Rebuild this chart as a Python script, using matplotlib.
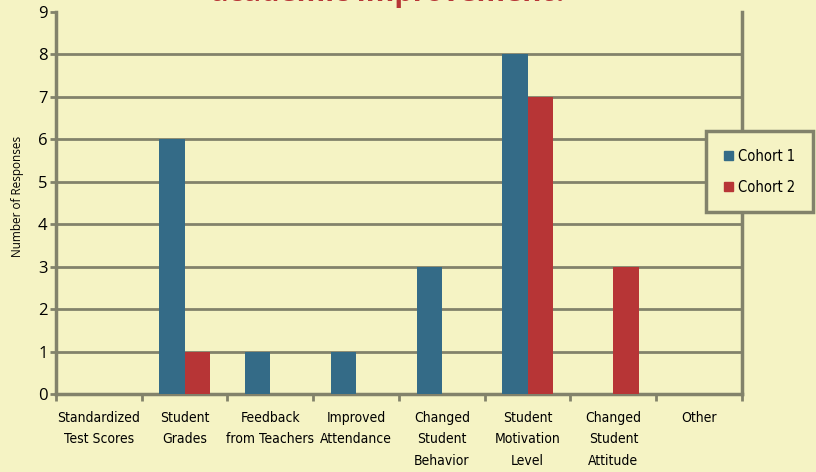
import numpy as np
import matplotlib.pyplot as plt
from matplotlib.patches import Patch
from matplotlib import font_manager

# ==============================================================================
# Data
#
categories = ['Standardized\nTest Scores', 'Student\nGrades',
              'Feedback\nfrom Teachers', 'Improved\nAttendance',
              'Changed\nStudent\nBehavior', 'Student\nMotivation\nLevel',
              'Changed\nStudent\nAttitude', 'Other']
cohort_1 = [0, 6, 1, 1, 3, 8, 0, 0]
cohort_2 = [0, 1, 0, 0, 0, 7, 3, 0]
series_names = ['Cohort 1', 'Cohort 2']

# ==============================================================================
# Style
#
BG = '#f5f3c4'
GRID = '#82826b'
BLUE = '#346b87'
RED = '#b73536'
REGULAR = ['Open Sans', 'DejaVu Sans']
BAR_W = 0.295

narrow = font_manager.FontProperties(family='DejaVu Sans', stretch='condensed', size=10)
leg_font = font_manager.FontProperties(family='DejaVu Sans', stretch='condensed', size=10.5)

# ==============================================================================
# Plot
#
fig = plt.figure(figsize=(8.16, 4.72), dpi=100, facecolor=BG)
ax = fig.add_axes([0.0686, 0.1653, 0.9093 - 0.0686, 0.9746 - 0.1653])
ax.set_facecolor(BG)

x = np.arange(len(categories)) + 0.5
ax.bar(x - BAR_W / 2, cohort_1, BAR_W, color=BLUE, zorder=3)
ax.bar(x + BAR_W / 2, cohort_2, BAR_W, color=RED, zorder=3)

ax.set_xlim(0, len(categories))
ax.set_ylim(0, 9)
ax.set_yticks(range(10))
ax.set_xticks(range(len(categories) + 1))
ax.set_xticklabels([])
ax.set_xticks(x, minor=True)
ax.set_xticklabels(categories, minor=True, fontproperties=narrow,
                   linespacing=1.7, va='top')
ax.tick_params(axis='x', which='minor', length=0, pad=12)
ax.tick_params(axis='x', which='major', length=5, width=2, color=GRID)
ax.tick_params(axis='y', length=4, width=2, color=GRID, pad=2, labelsize=12)
for lab in ax.get_yticklabels():
    lab.set_family(REGULAR)

ax.grid(axis='y', color=GRID, linewidth=2, zorder=0)
ax.yaxis.get_gridlines()[-1].set_visible(False)
for side in ['left', 'bottom', 'right']:
    ax.spines[side].set_color(GRID)
    ax.spines[side].set_linewidth(2.5)
ax.spines['top'].set_visible(False)

ax.set_ylabel('Number of Responses', family=REGULAR, fontsize=8.5)
ax.yaxis.set_label_coords(-0.047, 0.518)

# title, cut off by the top edge
fig.text(0.478, 0.998, 'academic improvement?', ha='center', va='baseline',
         color=RED, fontsize=21, fontweight='bold', family=REGULAR)

handles = [Patch(color=BLUE), Patch(color=RED)]
leg = fig.legend(handles, series_names, loc='center',
                 bbox_to_anchor=(0.931, 0.636), frameon=True, fancybox=False,
                 prop=leg_font, handlelength=0.6,
                 handleheight=0.6, handletextpad=0.4, borderpad=1.2,
                 labelspacing=1.1)
leg.get_frame().set_facecolor(BG)
leg.get_frame().set_edgecolor(GRID)
leg.get_frame().set_linewidth(2.5)
leg.get_frame().set_alpha(1)

plt.savefig('out.png', dpi=100, facecolor=BG)
